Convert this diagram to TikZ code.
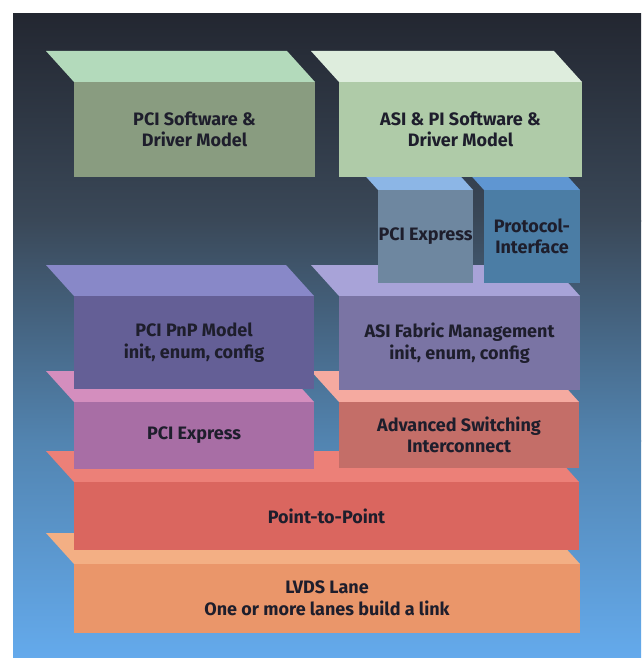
\documentclass[tikz,border=0pt]{standalone}
\usepackage{fontspec}
\setmainfont{Fira Sans}

% background gradient
\definecolor{bgA}{RGB}{35,39,49}
\definecolor{bgB}{RGB}{58,72,88}
\definecolor{bgC}{RGB}{82,132,176}
\definecolor{bgD}{RGB}{100,170,236}
% layer colours: top face / front face
\definecolor{swT}{HTML}{B3DABB}   \definecolor{swF}{HTML}{899C80}
\definecolor{asT}{HTML}{DEEDDD}   \definecolor{asF}{HTML}{AFCBA8}
\definecolor{peT}{HTML}{8CB6E6}   \definecolor{peF}{HTML}{6E87A0}
\definecolor{prT}{HTML}{5F96D2}   \definecolor{prF}{HTML}{4B7DA5}
\definecolor{pnT}{HTML}{8888C8}   \definecolor{pnF}{HTML}{645F96}
\definecolor{fmT}{HTML}{A8A3D8}   \definecolor{fmF}{HTML}{7A74A4}
\definecolor{pxT}{HTML}{D48EBE}   \definecolor{pxF}{HTML}{A86EA5}
\definecolor{adT}{HTML}{F5AAA0}   \definecolor{adF}{HTML}{C46E68}
\definecolor{ppT}{HTML}{EC8078}   \definecolor{ppF}{HTML}{DA665F}
\definecolor{lvT}{HTML}{F3AF84}   \definecolor{lvF}{HTML}{EA966A}
\definecolor{txt}{HTML}{1E1E2C}

\tikzset{
  lbl/.style={font=\bfseries\fontsize{18}{21.5}\selectfont, text=txt,
              align=center, inner sep=0pt}
}

% \layer{name}{x left}{x right}{y top}{y bottom}{top colour}{front colour}{text}
\newcommand\layer[8]{%
  \fill[#6] (#2,#4) -- (#3,#4) -- ({#3-28},{#4-31}) -- ({#2-28},{#4-31}) -- cycle;
  \fill[#7] (#2,#4) rectangle (#3,#5);
  \node[lbl] (#1) at ({(#2+#3)/2},{(#4+#5)/2}) {#8};
}

\begin{document}
\begin{tikzpicture}[x=1pt,y=-1pt]
\useasboundingbox (0,0) rectangle (641,658);
\fill[white] (0,0) rectangle (641,658);

% panel
\shade[top color=bgA, bottom color=bgB] (13,14) rectangle (641,221);
\shade[top color=bgB, bottom color=bgC] (13,220) rectangle (641,441);
\shade[top color=bgC, bottom color=bgD] (13,440) rectangle (641,658);

% stack, drawn from the bottom layer upwards
\layer{lvds}{74}{580}{564}{633}{lvT}{lvF}{LVDS Lane\\One or more lanes build a link}
\layer{ptp}{74}{579}{482}{550}{ppT}{ppF}{Point-to-Point}
\layer{pcie}{74}{314}{402}{469}{pxT}{pxF}{PCI Express}
\layer{asi}{339}{579}{402}{468}{adT}{adF}{Advanced Switching\\Interconnect}
\layer{pnp}{74}{314}{296}{389}{pnT}{pnF}{PCI PnP Model\\init, enum, config}
\layer{fabric}{339}{580}{296}{390}{fmT}{fmF}{ASI Fabric Management\\init, enum, config}
\layer{pcie2}{378}{473}{190}{283}{peT}{peF}{PCI Express}
\layer{proto}{484}{580}{190}{283}{prT}{prF}{Protocol-\\Interface}
\layer{pcisw}{74}{315}{82}{177}{swT}{swF}{PCI Software \&\\Driver Model}
\layer{asisw}{339}{582}{82}{177}{asT}{asF}{ASI \& PI Software \&\\Driver Model}
\end{tikzpicture}
\end{document}
